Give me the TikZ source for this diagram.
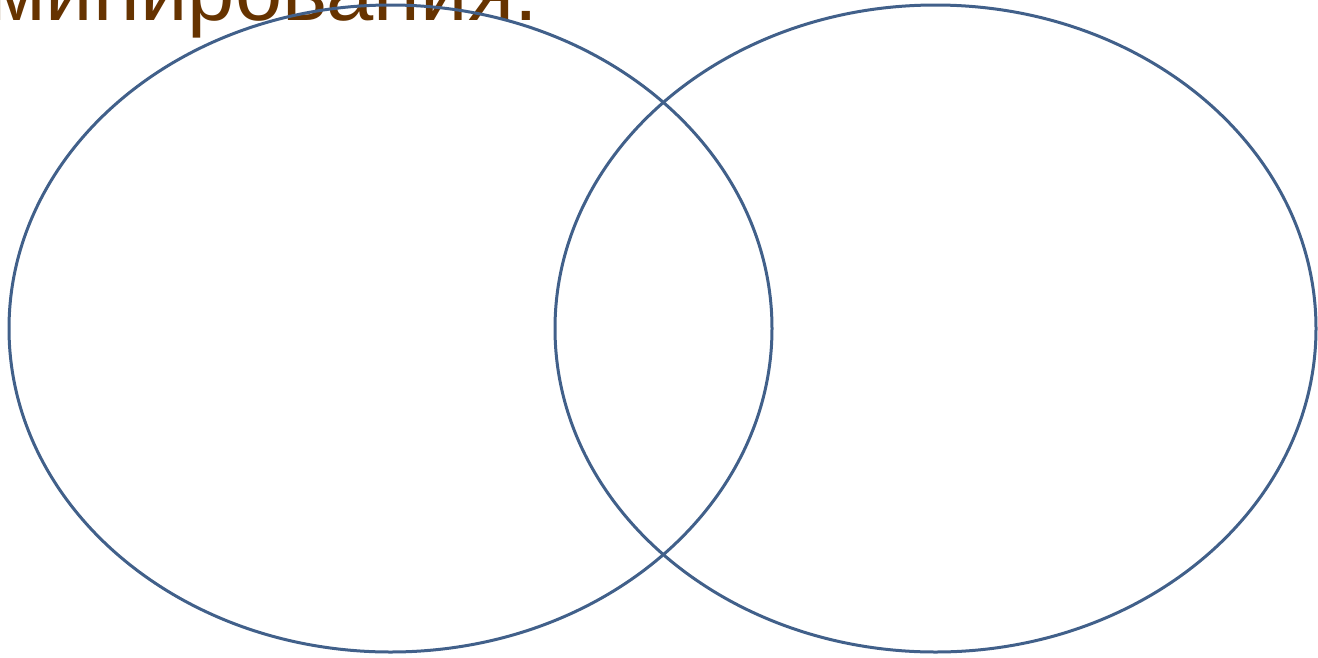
\documentclass[tikz,border=0pt]{standalone}
\usepackage{fontspec}
\setmainfont{Liberation Sans}
\definecolor{txtbrown}{HTML}{663300}
\definecolor{ringblue}{HTML}{41608A}
\tikzset{ring/.style={draw=ringblue,line width=3pt}}
\begin{document}
\begin{tikzpicture}[x=1pt,y=-1pt]
\useasboundingbox (0,0) rectangle (1318,657);
\clip (0,0) rectangle (1318,657);
\node[anchor=base east,inner sep=0pt,text=txtbrown,font=\fontsize{85}{100}\selectfont] (title) at (538,20) {минирования.};
\draw[ring] (390.5,328.5) ellipse [x radius=381.5,y radius=323.5];
\draw[ring] (935.5,328.5) ellipse [x radius=380.5,y radius=323.5];
\end{tikzpicture}
\end{document}
